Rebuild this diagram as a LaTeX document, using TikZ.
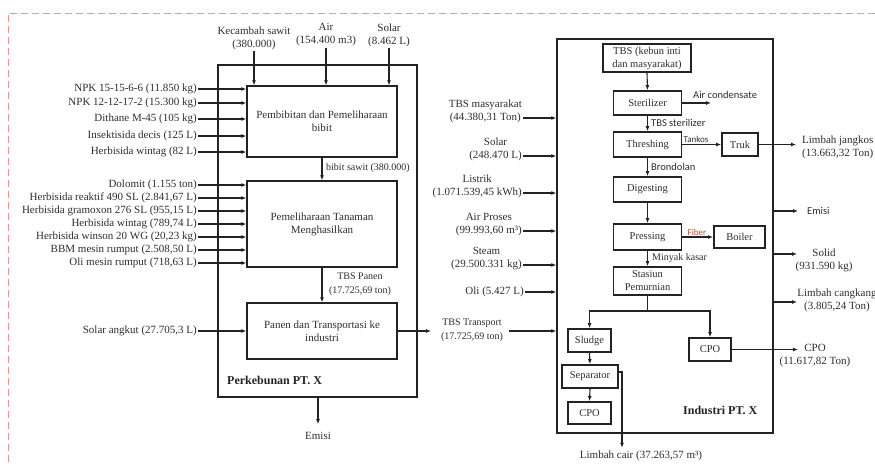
\documentclass[tikz,border=0pt]{standalone}
\usepackage{fontspec}
\setmainfont{Liberation Serif}
\newfontfamily\labsans{Carlito}
\usetikzlibrary{arrows.meta}
\definecolor{ink}{RGB}{35,35,35}
\definecolor{txt}{RGB}{45,45,45}
\definecolor{dashred}{RGB}{232,150,150}
\definecolor{fibrecol}{RGB}{165,85,60}
\begin{document}
\begin{tikzpicture}[x=1pt,y=-1pt,
  every node/.style={text=txt, font=\fontsize{11}{13}\selectfont, inner sep=1pt},
  arr/.style={draw=ink, line width=1.1pt, -{Latex[length=5pt,width=4pt]}},
  ln/.style={draw=ink, line width=1.1pt},
  outerbox/.style={draw=ink, line width=1.3pt, rectangle, inner sep=0pt},
  lbox/.style={draw=ink, line width=1.3pt, rectangle, align=center, inner sep=0pt},
  pbox/.style={draw=ink, line width=1.7pt, rectangle, align=center, inner sep=0pt, font=\fontsize{10.5}{13}\selectfont},
  lab/.style={align=center},
  small/.style={font=\fontsize{10}{14}\selectfont},
  sans/.style={font=\labsans\fontsize{10.5}{12}\selectfont},
  tiny/.style={font=\labsans\fontsize{9}{11}\selectfont},
  title/.style={font=\bfseries\fontsize{12}{14}\selectfont, text=ink},
  ]
\useasboundingbox (0,0) rectangle (875,463);
% dashed frame
\draw[dashred, line width=1pt, dash pattern=on 7pt off 4pt] (875,13) -- (8,13) -- (8,463);

% ===== Perkebunan =====
\node[outerbox, minimum width=199pt, minimum height=332pt] (perk) at (317.5,231) {};
\node[lbox, minimum width=150pt, minimum height=71pt] (b1) at (322,121.5) {Pembibitan dan Pemeliharaan\\bibit};
\node[lbox, minimum width=150pt, minimum height=86pt] (b2) at (322,224) {Pemeliharaan Tanaman\\Menghasilkan};
\node[lbox, minimum width=150pt, minimum height=56pt] (b3) at (322,331) {Panen dan Transportasi ke\\industri};

\node[lab] (kec) at (254,38.5) {Kecambah sawit\\(380.000)};
\node[lab] (air) at (326,35) {Air\\(154.400 m3)};
\node[lab] (sol) at (389,35) {Solar\\(8.462 L)};
\draw[arr] (kec.south) -- (kec.south |- b1.north);
\draw[arr] (air.south) -- (air.south |- b1.north);
\draw[arr] (sol.south) -- (sol.south |- b1.north);

\foreach \yy/\tt [count=\i] in {89/{NPK 15-15-6-6 (11.850 kg)},103/{NPK 12-12-17-2 (15.300 kg)},119/{Dithane M-45 (105 kg)},136/{Insektisida decis (125 L)},152/{Herbisida wintag (82 L)}}{
  \node[anchor=east] (pa\i) at (198,\yy) {\tt};
  \draw[arr] (pa\i.east) -- (pa\i.east -| b1.west);
}
\foreach \yy/\tt [count=\i] in {185/{Dolomit (1.155 ton)},198/{Herbisida reaktif 490 SL (2.841,67 L)},211/{Herbisida gramoxon 276 SL (955,15 L)},224/{Herbisida wintag (789,74 L)},237/{Herbisida winson 20 WG (20,23 kg)},250/{BBM mesin rumput (2.508,50 L)},263/{Oli mesin rumput (718,63 L)}}{
  \node[anchor=east] (pb\i) at (198,\yy) {\tt};
  \draw[arr] (pb\i.east) -- (pb\i.east -| b2.west);
}
\node[anchor=east] (sa) at (198,331) {Solar angkut (27.705,3 L)};
\draw[arr] (sa.east) -- (sa.east -| b3.west);

\draw[arr] (b1.south) -- (b2.north);
\node[small, anchor=west] (bs) at (325,168) {bibit sawit (380.000)};
\draw[arr] (b2.south) -- (b3.north);
\node[small, lab] (tp) at (360,284) {TBS Panen\\(17.725,69 ton)};

\node[title, anchor=west] (perkl) at (226,380) {Perkebunan PT. X};
\node (em1) at (318,436) {Emisi};
\draw[arr] (perk.south -| em1.north) -- ([yshift=7pt]em1.north);

\coordinate (tA) at (431,331);
\coordinate (tB) at (509,331);
\node[small, lab] (tbsT) at (472,330.5) {TBS Transport\\(17.725,69 ton)};
\draw[arr] (b3.east) -- (tA);

% ===== Industri =====
\node[outerbox, minimum width=216pt, minimum height=394pt] (ind) at (665,236) {};
\draw[arr] (tB) -- (tB -| ind.west);

\node[pbox, minimum width=88pt, minimum height=28pt] (tbs) at (647,58) {TBS (kebun inti\\dan masyarakat)};
\node[pbox, minimum width=68pt, minimum height=24pt] (ster) at (647.5,103) {Sterilizer};
\node[pbox, minimum width=68pt, minimum height=25pt] (thr) at (647.5,144.5) {Threshing};
\node[pbox, minimum width=68pt, minimum height=25pt] (dig) at (647.5,189.5) {Digesting};
\node[pbox, minimum width=68pt, minimum height=26pt] (pre) at (647.5,237) {Pressing};
\node[pbox, minimum width=68pt, minimum height=28pt] (pem) at (647.5,281) {Stasiun\\Pemurnian};
\node[pbox, minimum width=36pt, minimum height=23pt] (truk) at (740,144.5) {Truk};
\node[pbox, minimum width=51pt, minimum height=22pt] (boil) at (739.5,237) {Boiler};
\node[pbox, minimum width=43pt, minimum height=23pt] (sludge) at (589.5,340.5) {Sludge};
\node[pbox, minimum width=56pt, minimum height=23pt] (sep) at (590,376.5) {Separator};
\node[pbox, minimum width=43pt, minimum height=22pt] (cpo1) at (589.5,413) {CPO};
\node[pbox, minimum width=42pt, minimum height=23pt] (cpo2) at (710,349.5) {CPO};

\draw[arr] (tbs.south) -- (ster.north);
\draw[arr] (ster.south) -- (thr.north);
\draw[arr] (thr.south) -- (dig.north);
\draw[arr] (dig.south) -- (pre.north);
\draw[arr] (pre.south) -- (pem.north);
\node[sans, anchor=west] (ts) at (650,122.5) {TBS sterilizer};
\node[sans, anchor=west] (br) at (650,167) {Brondolan};
\node[small, anchor=west] (mk) at (651,258) {Minyak kasar};

\coordinate (ac) at (711,103);
\draw[arr] (ster.east) -- (ac);
\node[sans, anchor=west] (acl) at (692,95) {Air condensate};
\draw[arr] (thr.east) -- (truk.west);
\node[tiny, anchor=south west, inner sep=0.5pt] (tk) at (683,143.5) {Tankos};
\draw[arr] (pre.east) -- (boil.west);
\node[tiny, anchor=south west, inner sep=0.5pt, text=fibrecol] (fb) at (687,236) {Fiber};

\coordinate (split) at (647.5,311);
\draw[ln] (pem.south) -- (split);
\draw[arr] (split) -| (sludge.north);
\draw[arr] (split) -| (cpo2.north);
\draw[arr] (sludge.south) -- (sep.north);
\draw[arr] (sep.south) -- (cpo1.north);

\node (lcair) at (641,456) {Limbah cair (37.263,57 m³)};
\coordinate (sepout) at (622,372);
\draw[arr] (sep.east |- sepout) -- (sepout) -- ([yshift=2pt]sepout |- lcair.north);

\node[title, anchor=west] (indl) at (682,410) {Industri PT. X};

% inputs
\node[lab, anchor=east] (r1) at (523,111.5) {TBS masyarakat\\(44.380,31 Ton)};
\node[lab, anchor=east] (r2) at (523,149.5) {Solar\\(248.470 L)};
\node[lab, anchor=east] (r3) at (523,186.5) {Listrik\\(1.071.539,45 kWh)};
\node[lab, anchor=east] (r4) at (523,224.5) {Air Proses\\(99.993,60 m³)};
\node[lab, anchor=east] (r5) at (523,258.5) {Steam\\(29.500.331 kg)};
\node[anchor=east] (r6) at (525,292) {Oli (5.427 L)};
\foreach \n in {r1,r2,r3,r4,r5}{
  \draw[arr] ([yshift=-6.5pt]\n.east) -- ([yshift=-6.5pt]\n.east -| ind.west);
}
\draw[arr] (r6.east) -- (r6.east -| ind.west);

% outputs
\node[lab, align=left, anchor=west] (ljk) at (801,147.5) {Limbah jangkos\\(13.663,32 Ton)};
\draw[arr] (truk.east) -- ([xshift=-5pt]ljk.west |- truk.east);
\node[sans, anchor=west] (em2) at (806,211) {Emisi};
\draw[arr] (ind.east |- em2.west) -- ([xshift=-8pt]em2.west);
\node[lab] (sol2) at (824,260) {Solid\\(931.590 kg)};
\coordinate (solA) at (797,254);
\draw[arr] (ind.east |- solA) -- (solA);
\node[lab] (lck) at (837,300.5) {Limbah cangkang\\(3.805,24 Ton)};
\coordinate (lckA) at (797,302);
\draw[arr] (ind.east |- lckA) -- (lckA);
\node[lab] (cpoO) at (815,355.5) {CPO\\(11.617,82 Ton)};
\coordinate (cpoA) at (798,349.5);
\draw[arr] (cpo2.east) -- (cpoA);
\end{tikzpicture}
\end{document}
